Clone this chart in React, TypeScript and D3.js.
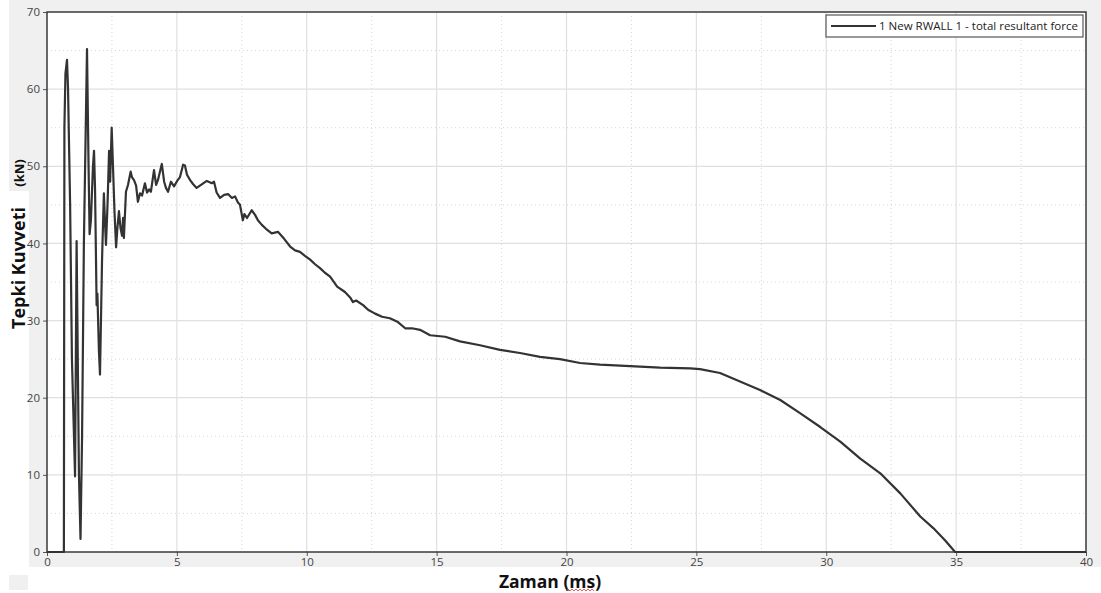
import React, { useEffect, useRef } from 'react'
import * as d3 from 'd3'

// time (ms) and total resultant force (kN)
const timeMs = [
  0, 0.65, 0.67, 0.71, 0.77, 0.81, 0.89, 0.96, 1.08, 1.14, 1.17, 1.23, 1.29, 1.35, 1.42,
  1.54, 1.6, 1.64, 1.69, 1.77, 1.81, 1.85, 1.91, 1.94, 2.0, 2.04, 2.12, 2.19, 2.23, 2.27,
  2.33, 2.39, 2.43, 2.49, 2.54, 2.6, 2.66, 2.71, 2.77, 2.83, 2.89, 2.93, 2.96, 3.04, 3.12,
  3.22, 3.27, 3.35, 3.43, 3.5, 3.58, 3.66, 3.77, 3.85, 3.93, 4.0, 4.12, 4.2, 4.27, 4.42,
  4.51, 4.58, 4.66, 4.77, 4.89, 5.01, 5.12, 5.24, 5.31, 5.39, 5.51, 5.62, 5.76, 5.93, 6.15,
  6.35, 6.43, 6.53, 6.66, 6.82, 6.97, 7.12, 7.24, 7.35, 7.43, 7.54, 7.6, 7.7, 7.88, 8.01,
  8.12, 8.27, 8.43, 8.65, 8.89, 9.13, 9.36, 9.55, 9.74, 9.93, 10.13, 10.32, 10.51, 10.7,
  10.9, 11.17, 11.47, 11.67, 11.78, 11.9, 12.17, 12.36, 12.63, 12.9, 13.2, 13.51, 13.79,
  14.05, 14.36, 14.75, 15.33, 15.9, 16.67, 17.44, 18.21, 18.98, 19.75, 20.52, 21.29, 22.45,
  23.6, 24.76, 25.14, 25.91, 26.68, 27.45, 28.23, 28.99, 29.77, 30.54, 31.31, 32.08, 32.85,
  33.62, 34.12, 34.58, 34.96, 40
]
const forceKN = [
  0, 0, 55, 62, 63.8, 60, 45, 25, 9.8, 40.3, 30, 10, 1.7, 15, 40,
  65.2, 50, 41.2, 43, 50, 52, 47, 32, 33.5, 26, 23, 38, 46.5, 43, 39.8,
  45, 52, 48, 55, 50, 44, 39.5, 42, 44.2, 42, 41, 43.3, 40.7, 46.7, 47.6,
  49.3, 48.6, 48.2, 47.5, 45.4, 46.5, 46.2, 47.8, 46.6, 47, 46.7, 49.5, 47.6, 48.2, 50.3,
  48, 47.2, 46.7, 48, 47.4, 48.1, 48.6, 50.2, 50.1, 48.9, 48.2, 47.7, 47.2, 47.6, 48.1,
  47.8, 48, 46.6, 45.9, 46.3, 46.4, 45.9, 46.1, 45.3, 45, 43, 43.8, 43.3, 44.3, 43.7,
  43, 42.4, 41.9, 41.3, 41.5, 40.6, 39.6, 39.1, 38.9, 38.4, 37.9, 37.3, 36.8, 36.2,
  35.7, 34.4, 33.7, 33, 32.4, 32.6, 32, 31.4, 30.9, 30.5, 30.3, 29.8, 29,
  29, 28.8, 28.1, 27.9, 27.3, 26.8, 26.2, 25.8, 25.3, 25, 24.5, 24.3, 24.1,
  23.9, 23.8, 23.7, 23.2, 22.1, 21, 19.7, 18, 16.2, 14.3, 12.1, 10.2, 7.6,
  4.6, 3.1, 1.5, 0, 0
]

const xTicks = [0, 5, 10, 15, 20, 25, 30, 35, 40]
const yTicks = [0, 10, 20, 30, 40, 50, 60, 70]
const seriesName = '1 New RWALL 1 - total resultant force'

const W = 1101
const H = 593
const left = 47
const right = 1086
const top = 12
const bottom = 552

const App = () => {
  const svgRef = useRef<SVGSVGElement>(null)

  useEffect(() => {
    const svg = d3.select(svgRef.current)
    svg.selectAll('*').remove()

    const x = d3.scaleLinear().domain([0, 40]).range([left, right])
    const y = d3.scaleLinear().domain([0, 70]).range([bottom, top])

    // backgrounds (the reference is a pasted screenshot with grey panel)
    svg.append('rect').attr('x', 0).attr('y', 0).attr('width', W).attr('height', H).attr('fill', '#fff')
    svg.append('rect').attr('x', 9).attr('y', 0).attr('width', W - 9).attr('height', 567).attr('fill', '#f0f0f0')
    svg.append('rect').attr('x', 0).attr('y', 191).attr('width', 29).attr('height', H - 191).attr('fill', '#fff')
    svg.append('rect').attr('x', 9).attr('y', 575).attr('width', 19).attr('height', 15).attr('fill', '#f0f0f0')
    svg.append('rect').attr('x', left).attr('y', top).attr('width', right - left).attr('height', bottom - top).attr('fill', '#fff')

    // minor dotted grid
    const minorX = d3.range(2.5, 40, 5)
    const minorY = d3.range(5, 70, 10)
    svg.append('g').selectAll('line').data(minorX).join('line')
      .attr('x1', d => x(d)).attr('x2', d => x(d)).attr('y1', top).attr('y2', bottom)
      .attr('stroke', '#d6d6d6').attr('stroke-dasharray', '1,3')
    svg.append('g').selectAll('line').data(minorY).join('line')
      .attr('x1', left).attr('x2', right).attr('y1', d => y(d)).attr('y2', d => y(d))
      .attr('stroke', '#d6d6d6').attr('stroke-dasharray', '1,3')

    // major grid
    svg.append('g').selectAll('line').data(xTicks.slice(1, -1)).join('line')
      .attr('x1', d => x(d)).attr('x2', d => x(d)).attr('y1', top).attr('y2', bottom)
      .attr('stroke', '#e0e0e0').attr('stroke-width', 1.2)
    svg.append('g').selectAll('line').data(yTicks.slice(1, -1)).join('line')
      .attr('x1', left).attr('x2', right).attr('y1', d => y(d)).attr('y2', d => y(d))
      .attr('stroke', '#e0e0e0').attr('stroke-width', 1.2)

    // axes
    const xAxis = d3.axisBottom(x).tickValues(xTicks).tickSize(4).tickFormat(d3.format('d'))
    const gx = svg.append('g').attr('transform', `translate(0,${bottom})`).call(xAxis)
    const yAxis = d3.axisLeft(y).tickValues(yTicks).tickSize(4).tickFormat(d3.format('d'))
    const gy = svg.append('g').attr('transform', `translate(${left},0)`).call(yAxis)
    for (const g of [gx, gy]) {
      g.select('.domain').remove()
      g.selectAll('line').attr('stroke', '#555')
      g.selectAll('text').attr('fill', '#444').style('font-family', 'Open Sans').style('font-size', '11.5px')
    }
    gx.selectAll('text').attr('y', 5).attr('dy', '0.75em')

    // plot frame
    svg.append('rect').attr('x', left).attr('y', top).attr('width', right - left).attr('height', bottom - top)
      .attr('fill', 'none').attr('stroke', '#3a3a3a').attr('stroke-width', 1.5)

    // series
    const line = d3.line<number>().x((d, i) => x(timeMs[i])).y(d => y(d))
    svg.append('path').datum(forceKN).attr('d', line)
      .attr('fill', 'none').attr('stroke', '#333').attr('stroke-width', 2.2).attr('stroke-linejoin', 'round')

    // legend
    svg.append('rect').attr('x', 826).attr('y', 15).attr('width', 257).attr('height', 22)
      .attr('fill', '#fff').attr('stroke', '#555').attr('stroke-width', 1.2)
    svg.append('line').attr('x1', 831).attr('x2', 876).attr('y1', 26).attr('y2', 26)
      .attr('stroke', '#333').attr('stroke-width', 2)
    svg.append('text').attr('x', 879).attr('y', 30).text(seriesName)
      .attr('fill', '#222').style('font-family', 'Open Sans').style('font-size', '11.5px')

    // axis titles
    svg.append('rect').attr('x', 480).attr('y', 568).attr('width', 138).attr('height', 25).attr('fill', '#fff')
    svg.append('text').attr('x', 550).attr('y', 588).attr('text-anchor', 'middle').text('Zaman (ms)')
      .attr('fill', '#111').style('font-family', 'Open Sans').style('font-weight', 'bold').style('font-size', '17.5px')
    svg.append('path').attr('d', 'M566,591 l2,-2 l2,2 l2,-2 l2,2 l2,-2 l2,2 l2,-2 l2,2 l2,-2 l2,2 l2,-2 l2,2 l2,-2 l2,2')
      .attr('fill', 'none').attr('stroke', '#d33').attr('stroke-width', 0.8)
    svg.append('text').attr('transform', 'translate(25,268) rotate(-90)').attr('text-anchor', 'middle').text('Tepki Kuvveti')
      .attr('fill', '#111').style('font-family', 'Open Sans').style('font-weight', 'bold').style('font-size', '18px')
    svg.append('text').attr('transform', 'translate(24,173) rotate(-90)').attr('text-anchor', 'middle').text('(kN)')
      .attr('fill', '#111').style('font-family', 'Open Sans').style('font-weight', 'bold').style('font-size', '13px')
  }, [])

  return (
    <svg ref={svgRef} width={W} height={H} style={{ position: 'absolute', left: 0, top: 0 }} />
  )
}

export default App
